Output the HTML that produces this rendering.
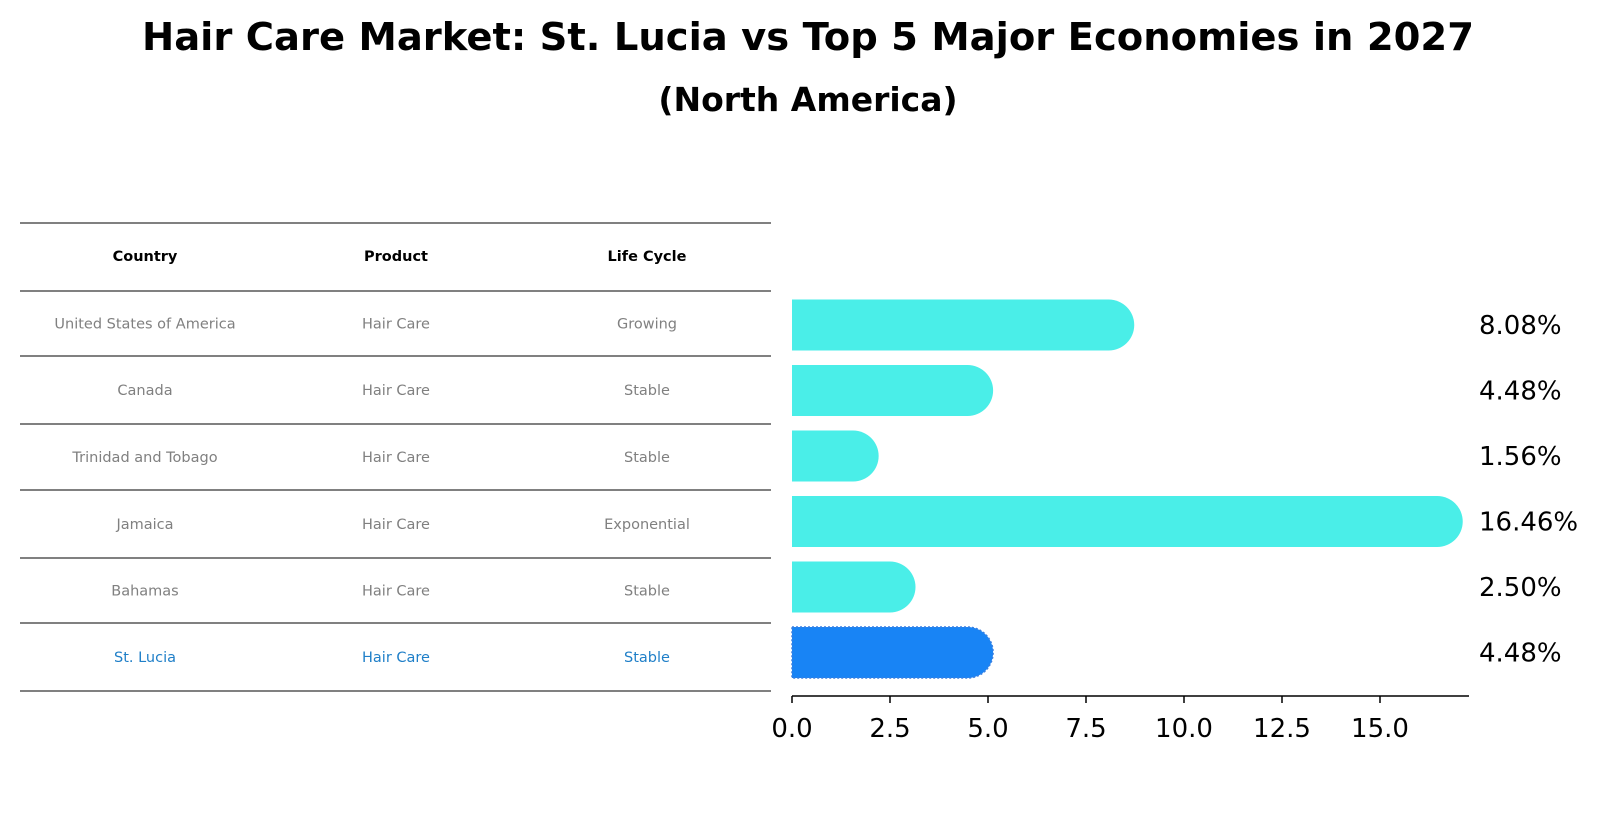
<!DOCTYPE html>
<html><head><meta charset="utf-8"><style>
body{margin:0;background:#fff}
svg{display:block;font-family:"DejaVu Sans","Liberation Sans",sans-serif}
</style></head><body>
<svg id="chart" width="1604" height="823" viewBox="0 0 1604 823" xmlns="http://www.w3.org/2000/svg">
<text x="808" y="50" text-anchor="middle" font-size="38.5" font-weight="bold">Hair Care Market: St. Lucia vs Top 5 Major Economies in 2027</text>
<text x="808" y="111" text-anchor="middle" font-size="33" font-weight="bold">(North America)</text>
<g id="table"></g>
<g id="bars"></g>
</svg>
<script>
const countries=["United States of America","Canada","Trinidad and Tobago","Jamaica","Bahamas","St. Lucia"];
const products=["Hair Care","Hair Care","Hair Care","Hair Care","Hair Care","Hair Care"];
const lifeCycles=["Growing","Stable","Stable","Exponential","Stable","Stable"];
const values=[8.08,4.48,1.56,16.46,2.50,4.48];
const valueLabels=["8.08%","4.48%","1.56%","16.46%","2.50%","4.48%"];
const ticks=[0,2.5,5,7.5,10,12.5,15];
const tickLabels=["0.0","2.5","5.0","7.5","10.0","12.5","15.0"];
const headers=["Country","Product","Life Cycle"];

const NS="http://www.w3.org/2000/svg";
function mk(t,a,p){const e=document.createElementNS(NS,t);for(const k in a)e.setAttribute(k,a[k]);p.appendChild(e);return e;}
const tbl=document.getElementById('table');
const lineYs=[223,291,356,424,490,558,623,691];
const colX=[145,396,647];
lineYs.forEach((y,i)=>{const l=mk('line',{x1:20,x2:771,y1:y,y2:y,stroke:'#000','stroke-width':1},tbl);

});
headers.forEach((h,j)=>{const t=mk('text',{x:colX[j],y:(lineYs[0]+lineYs[1])/2+4,'text-anchor':'middle','font-size':14.5,'font-weight':'bold'},tbl);t.textContent=h;

});
countries.forEach((c,i)=>{const y=(lineYs[i+1]+lineYs[i+2])/2+5;const col=i===5?'#1f7fc8':'#808080';
[c,products[i],lifeCycles[i]].forEach((v,j)=>{const t=mk('text',{x:colX[j],y:y,'text-anchor':'middle','font-size':14.5,fill:col},tbl);t.textContent=v;

});});

const g=document.getElementById('bars');
const x0=792,sx=39.2;const X=v=>x0+v*sx;
const yc=i=>325+i*65.5;const bh=51,r=25.5;
values.forEach((v,i)=>{const xe=X(v),y=yc(i)-bh/2;
const col=i===5?'#1884f5':'#4aeee8';
const p=mk('path',{d:`M${x0},${y} H${xe} A${r},${r} 0 0 1 ${xe},${y+bh} H${x0} Z`,fill:col},g);
if(i===5){p.setAttribute('stroke','#3a7fe0');p.setAttribute('stroke-dasharray','2,2');p.setAttribute('stroke-width','1.5');}


const t=mk('text',{x:1479,y:yc(i)+9,'font-size':26},g);t.textContent=valueLabels[i];

});
const ax=mk('line',{x1:x0,x2:1469,y1:696,y2:696,stroke:'#000','stroke-width':1.5},g);


ticks.forEach((tv,i)=>{const x=X(tv);const l=mk('line',{x1:x,x2:x,y1:696,y2:703,stroke:'#000','stroke-width':1.5},g);


const t=mk('text',{x:x,y:737,'text-anchor':'middle','font-size':26},g);t.textContent=tickLabels[i];

});
</script>
</body></html>
